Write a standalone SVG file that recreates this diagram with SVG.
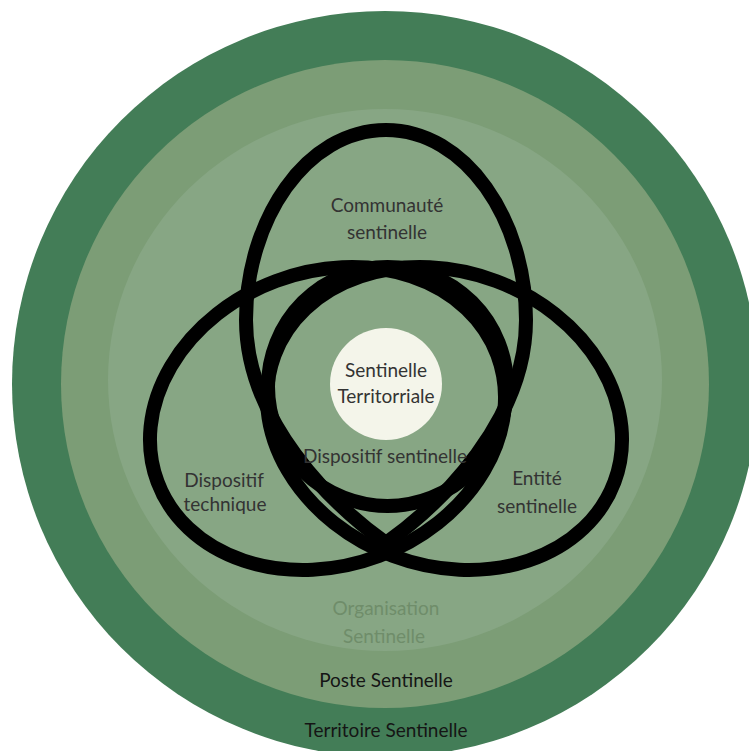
<svg xmlns="http://www.w3.org/2000/svg" width="749" height="751" viewBox="0 0 749 751">
<style>
.ring{stroke:none}
.set{fill:none;stroke:#000;stroke-width:14}
.lbl{font-family:Lato,"Open Sans","DejaVu Sans",sans-serif;font-size:19px;text-anchor:middle;fill:#333}
.dark{fill:#151515}
.faint{fill:#6f8d6a}
</style>
<rect width="749" height="751" fill="#fff"/>
<g id="territoire">
<circle class="ring" cx="385" cy="384" r="373" fill="#437d57"/>
<text class="lbl dark" x="386" y="737">Territoire Sentinelle</text>
</g>
<g id="poste">
<circle class="ring" cx="385" cy="384" r="324" fill="#7c9d76"/>
<text class="lbl dark" x="386" y="687">Poste Sentinelle</text>
</g>
<g id="organisation">
<ellipse class="ring" cx="385" cy="380" rx="277" ry="271" fill="#87a684"/>
<text class="lbl faint" x="386" y="615">Organisation</text>
<text class="lbl faint" x="384" y="643">Sentinelle</text>
</g>
<g id="communaute">
<path class="set" d="M386 130C466 130 526 220 526 320C526 420 442 503 386 543C330 503 246 420 246 320C246 220 306 130 386 130Z"/>
<text class="lbl" x="387" y="212">Communauté</text>
<text class="lbl" x="387" y="239">sentinelle</text>
</g>
<g id="dispositif-technique">
<ellipse class="set" cx="327.5" cy="418.5" rx="181.4" ry="146.8" transform="rotate(-20.5 327.5 418.5)"/>
<text class="lbl" x="224" y="487">Dispositif</text>
<text class="lbl" x="225" y="511">technique</text>
</g>
<g id="entite">
<ellipse class="set" cx="444.5" cy="418.5" rx="181.4" ry="146.8" transform="rotate(20.5 444.5 418.5)"/>
<text class="lbl" x="537" y="485">Entité</text>
<text class="lbl" x="537" y="513">sentinelle</text>
</g>
<g id="dispositif-sentinelle">
<circle class="set" cx="387.5" cy="386.5" r="119.5"/>
<text class="lbl" x="385" y="463">Dispositif sentinelle</text>
</g>
<g id="sentinelle-territoriale">
<circle cx="386" cy="384" r="56" fill="#f4f5ea"/>
<text class="lbl" x="386" y="377">Sentinelle</text>
<text class="lbl" x="386" y="403">Territorriale</text>
</g>
<g id="connectors"/>
</svg>
